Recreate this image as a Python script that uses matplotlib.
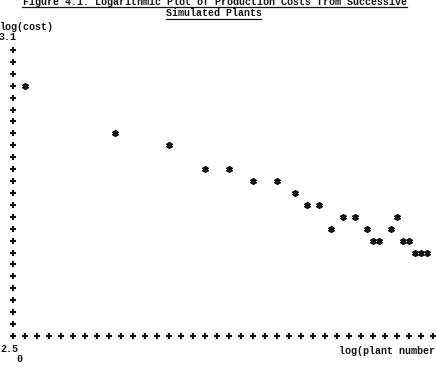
import numpy as np
import matplotlib.pyplot as plt
from matplotlib.lines import Line2D

# valores (log(numero de planta), log(costo))
log_planta = [0.00, 0.30, 0.48, 0.60, 0.68, 0.76, 0.84, 0.90, 0.94, 0.98, 1.02, 1.06,
              1.10, 1.14, 1.16, 1.18, 1.22, 1.24, 1.26, 1.28, 1.30, 1.32, 1.34]
log_costo = [3.025, 2.925, 2.900, 2.850, 2.850, 2.825, 2.825, 2.800, 2.775, 2.775, 2.725, 2.750,
             2.750, 2.725, 2.700, 2.700, 2.725, 2.750, 2.700, 2.700, 2.675, 2.675, 2.675]

y_min, y_max = 2.5, 3.1
titulo1 = "Figure 4.1: Logarithmic Plot of Production Costs from Successive"
titulo2 = "Simulated Plants"

W, H = 436, 377
fig = plt.figure(figsize=(W / 100, H / 100), dpi=100)
ax = fig.add_axes([0, 0, 1, 1])
ax.set_xlim(-25 / 300, 411 / 300)
ax.set_ylim(2.5 - 41 / 476.7, 2.5 + 336 / 476.7)
ax.axis('off')

tinta = '#151515'

# ejes estilo impresora: cruces
ejes_y = np.arange(y_min, y_max + 1e-9, 0.025)
ax.plot(np.full(len(ejes_y), -0.04), ejes_y, ls='none', marker='+', ms=4.3,
        mew=1.5, color=tinta)
ejes_x = np.arange(-0.04, 1.37, 0.04)
ax.plot(ejes_x, np.full(len(ejes_x), y_min), ls='none', marker='+', ms=4.3,
        mew=1.5, color=tinta)

# puntos
ax.plot(log_planta, log_costo, ls='none', marker=(6, 2, 0), ms=4.8,
        mew=1.3, color=tinta)

fuente = dict(family='Liberation Mono', weight='bold', size=7.2, color=tinta)

def texto(x, y, s, **kw):
    fig.text(x / W, 1 - y / H, s, **fuente, **kw)

texto(214.5, 5, titulo1, ha='center', va='baseline')
texto(213.5, 16.5, titulo2, ha='center', va='baseline')
fig.add_artist(Line2D([22 / W, 407 / W], [1 - 6.5 / H, 1 - 6.5 / H], lw=0.9, color=tinta))
fig.add_artist(Line2D([166 / W, 261 / W], [1 - 18.5 / H, 1 - 18.5 / H], lw=0.9, color=tinta))

texto(0, 27, "log(cost)", ha='left', va='center')
texto(-1, 37.5, "3.1", ha='left', va='center')
texto(0, 349, "2.5", ha='left', va='center')
texto(19, 359, "0", ha='center', va='center')
texto(339, 351, "log(plant number", ha='left', va='center')

fig.savefig('out.png', dpi=100)
